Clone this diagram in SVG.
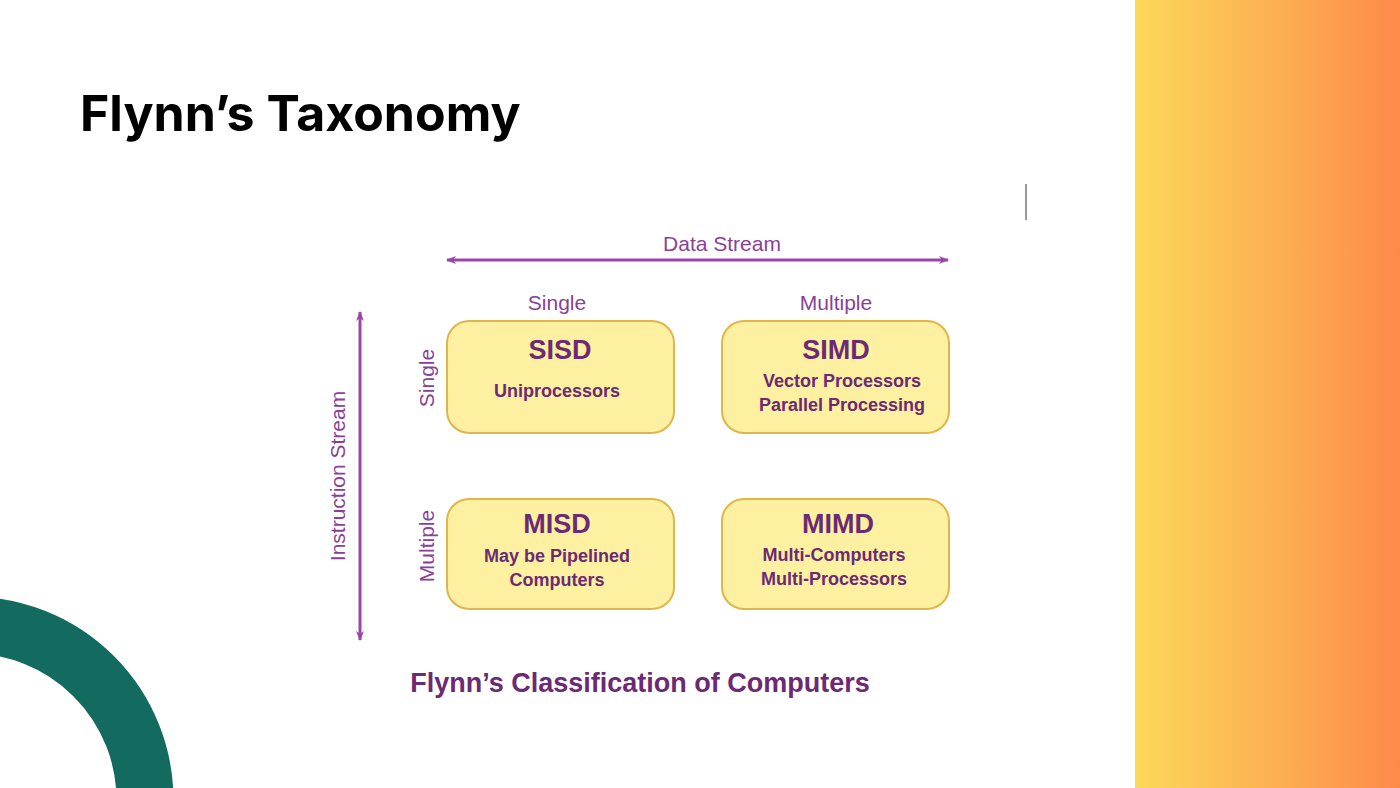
<svg xmlns="http://www.w3.org/2000/svg" width="1400" height="788" viewBox="0 0 1400 788">
<defs>
<linearGradient id="g" x1="0" x2="1" y1="0" y2="0"><stop offset="0" stop-color="#fcd95a"/><stop offset="1" stop-color="#fd8a4a"/></linearGradient>
<marker id="a" viewBox="0 0 10 10" refX="9" refY="5" markerWidth="10" markerHeight="10" orient="auto-start-reverse" markerUnits="userSpaceOnUse"><path d="M0,1 L10,5 L0,9 L3,5 Z" fill="#9b45a8"/></marker>
<style>
.box{fill:#fdf0a0;stroke:#e0b64a;stroke-width:2}
.t{font-family:"Liberation Sans",Arial,sans-serif;font-weight:bold;fill:#6b2a73;text-anchor:middle}
.h{font-size:27px}.s{font-size:18px}
.lab{font-family:"Liberation Sans",Arial,sans-serif;font-size:21px;fill:#8a3f98;text-anchor:middle}
.ax{stroke:#9b45a8;stroke-width:3;fill:none}
</style>
</defs>
<rect width="1400" height="788" fill="#fff"/>
<rect x="1135" y="0" width="265" height="788" fill="url(#g)"/>
<circle cx="-30" cy="800" r="175" fill="none" stroke="#136a5f" stroke-width="57"/>
<text x="80" y="131" font-family="Inter,'Open Sans',sans-serif" font-weight="bold" font-size="50" fill="#000">Flynn’s Taxonomy</text>
<line x1="1026" y1="184" x2="1026" y2="220" stroke="#777" stroke-width="1.5"/>
<g id="connectors">
<line class="ax" x1="447" y1="260" x2="948" y2="260" marker-start="url(#a)" marker-end="url(#a)"/>
<line class="ax" x1="360" y1="312" x2="360" y2="640" marker-start="url(#a)" marker-end="url(#a)"/>
</g>
<text class="lab" x="722" y="251">Data Stream</text>
<text class="lab" x="557" y="310">Single</text>
<text class="lab" x="836" y="310">Multiple</text>
<text class="lab" transform="translate(345,476) rotate(-90)">Instruction Stream</text>
<text class="lab" transform="translate(434,378) rotate(-90)">Single</text>
<text class="lab" transform="translate(434,546) rotate(-90)">Multiple</text>
<g id="sisd"><rect class="box" x="447" y="321" width="227" height="112" rx="22"/><text class="t h" x="560" y="359">SISD</text><text class="t s" x="557" y="397">Uniprocessors</text></g>
<g id="simd"><rect class="box" x="722" y="321" width="227" height="112" rx="22"/><text class="t h" x="836" y="359">SIMD</text><text class="t s" x="842" y="387">Vector Processors</text><text class="t s" x="842" y="411">Parallel Processing</text></g>
<g id="misd"><rect class="box" x="447" y="499" width="227" height="110" rx="22"/><text class="t h" x="557" y="533">MISD</text><text class="t s" x="557" y="562">May be Pipelined</text><text class="t s" x="557" y="586">Computers</text></g>
<g id="mimd"><rect class="box" x="722" y="499" width="227" height="110" rx="22"/><text class="t h" x="838" y="533">MIMD</text><text class="t s" x="834" y="561">Multi-Computers</text><text class="t s" x="834" y="585">Multi-Processors</text></g>
<text class="t" x="640" y="692" font-size="27">Flynn’s Classification of Computers</text>
</svg>
